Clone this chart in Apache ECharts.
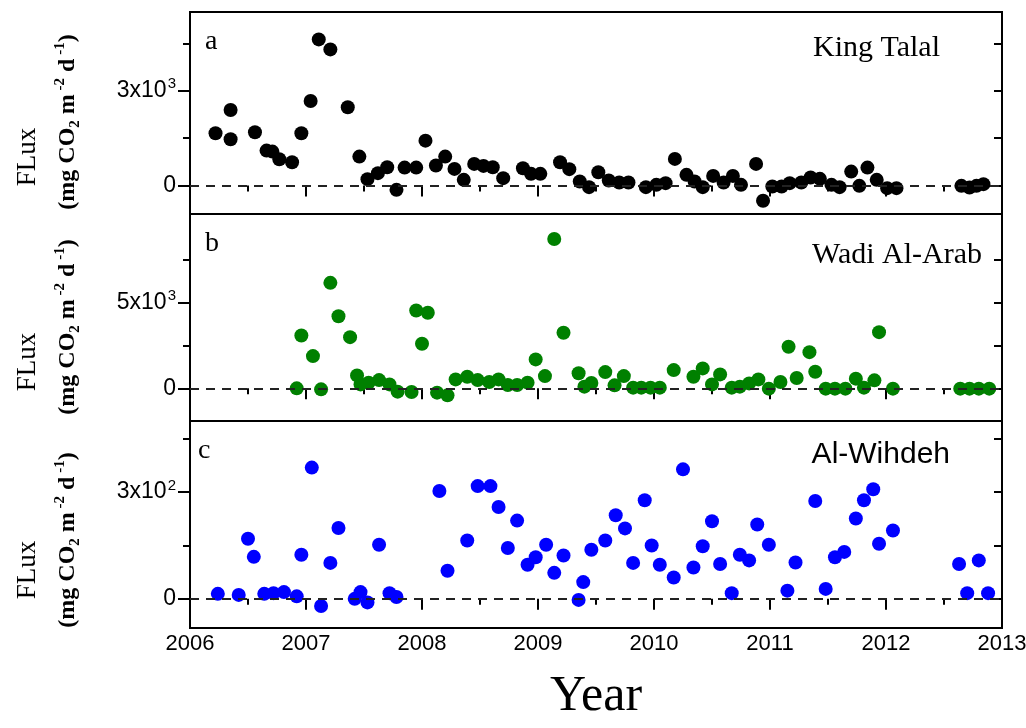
<!DOCTYPE html>
<html>
<head>
<meta charset="utf-8">
<title>FLux</title>
<script src="https://cdn.jsdelivr.net/npm/echarts@6/dist/echarts.min.js"></script>
<style>
    html, body { margin: 0; padding: 0; background: #fff; }
    #chart { width: 1026px; height: 728px; }
</style>
</head>
<body>
<div id="chart"></div>
<script>
// King Talal (a)
const ktYear = [2006.22, 2006.35, 2006.35, 2006.56, 2006.66, 2006.71, 2006.77, 2006.88, 2006.96,
    2007.04, 2007.11, 2007.21, 2007.36, 2007.46, 2007.53, 2007.62, 2007.70, 2007.78, 2007.85, 2007.95,
    2008.03, 2008.12, 2008.20, 2008.28, 2008.36, 2008.45, 2008.53, 2008.61, 2008.70, 2008.87, 2008.94,
    2009.02, 2009.19, 2009.27, 2009.36, 2009.44, 2009.52, 2009.61, 2009.70, 2009.78, 2009.93,
    2010.02, 2010.10, 2010.18, 2010.28, 2010.35, 2010.42, 2010.51, 2010.60, 2010.68, 2010.75, 2010.88, 2010.94,
    2011.02, 2011.10, 2011.17, 2011.27, 2011.35, 2011.43, 2011.53, 2011.60, 2011.70, 2011.77, 2011.84, 2011.92,
    2012.01, 2012.09, 2012.65, 2012.72, 2012.78, 2012.84]
const ktFlux = [1655, 2390, 1465, 1686, 1105, 1074, 834, 739, 1655,
    2675, 4623, 4307, 2476, 916, 202, 392, 581, -136, 568, 568,
    1421, 632, 916, 527, 180, 685, 622, 581, 234, 549, 370,
    370, 739, 518, 126, -51, 423, 158, 95, 95, -51,
    22, 76, 843, 338, 126, -51, 306, 95, 306, 22, 685, -483,
    -32, -32, 76, 95, 253, 212, 22, -51, 442, -9, 568, 180,
    -82, -82, -9, -63, -9, 44]

// Wadi Al-Arab (b)
const waYear = [2006.92, 2006.96,
    2007.06, 2007.13, 2007.21, 2007.28, 2007.38, 2007.44, 2007.47, 2007.54, 2007.63, 2007.72, 2007.79, 2007.91, 2007.95,
    2008.00, 2008.05, 2008.13, 2008.22, 2008.29, 2008.39, 2008.48, 2008.58, 2008.66, 2008.74, 2008.82, 2008.91, 2008.98,
    2009.06, 2009.14, 2009.22, 2009.35, 2009.40, 2009.46, 2009.58, 2009.66, 2009.74, 2009.82, 2009.89, 2009.97,
    2010.05, 2010.17, 2010.34, 2010.42, 2010.50, 2010.57, 2010.67, 2010.74, 2010.82, 2010.90, 2010.99,
    2011.09, 2011.16, 2011.23, 2011.34, 2011.39, 2011.48, 2011.56, 2011.65, 2011.74, 2011.81, 2011.90, 2011.94,
    2012.06, 2012.64, 2012.72, 2012.80, 2012.89]
const waFlux = [0, 3079,
    1877, -58, 6141, 4201, 2981, 755, 232, 331, 482, 232, -192, -215, 4532,
    2597, 4398, -250, -407, 523, 680, 482, 366, 523, 192, 192, 331, 1685,
    715, 8698, 3236, 880, 100, 310, 947, 174, 715, 41, 41, 41,
    41, 1063, 680, 1162, 232, 813, 41, 99, 290, 523, -17,
    366, 2423, 600, 2109, 970, -17, -17, -17, 564, 41, 465, 3271,
    -17, -17, -17, -17, -17]

// Al-Wihdeh (c)
const awYear = [2006.24, 2006.42, 2006.50, 2006.55, 2006.64, 2006.72, 2006.81, 2006.92, 2006.96,
    2007.05, 2007.13, 2007.21, 2007.28, 2007.42, 2007.47, 2007.53, 2007.63, 2007.72, 2007.78,
    2008.15, 2008.22, 2008.39, 2008.48, 2008.59, 2008.66, 2008.74, 2008.82, 2008.91, 2008.98,
    2009.07, 2009.14, 2009.22, 2009.35, 2009.39, 2009.46, 2009.58, 2009.67, 2009.75, 2009.82, 2009.92, 2009.98,
    2010.05, 2010.17, 2010.25, 2010.34, 2010.42, 2010.50, 2010.57, 2010.67, 2010.74, 2010.82, 2010.89, 2010.99,
    2011.15, 2011.22, 2011.39, 2011.48, 2011.56, 2011.64, 2011.74, 2011.81, 2011.89, 2011.94,
    2012.06, 2012.63, 2012.70, 2012.80, 2012.88]
const awFlux = [14, 11, 169, 118, 14, 16, 19, 7, 124,
    369, -20, 101, 199, 0, 19, -10, 152, 16, 5,
    303, 79, 164, 317, 317, 258, 143, 220, 96, 117,
    152, 73, 122, -3, 47, 138, 164, 235, 198, 101, 277, 150,
    96, 60, 364, 88, 148, 218, 98, 16, 124, 108, 209, 152,
    23, 102, 275, 28, 117, 132, 226, 277, 308, 155,
    192, 98, 16, 108, 16]

const yearTicks = [2006, 2007, 2008, 2009, 2010, 2011, 2012, 2013]
const stations = ['King Talal', 'Wadi Al-Arab', 'Al-Wihdeh']
const panelLetters = ['a', 'b', 'c']
// major (labelled) and minor y ticks, label text as mantissa / exponent
const majorTicks = [[0, 3000], [0, 5000], [0, 300]]
const minorTicks = [[1500, 4500], [2500, 7500], [150, 450]]
const tickLabels = [['3', '3'], ['5', '3'], ['3', '2']]
const yRanges = [[-900, 5490], [-1900, 10150], [-82, 500]]

const SERIF = '"Liberation Serif", "DejaVu Serif", serif'
const SANS = '"Liberation Sans", Arial, sans-serif'
const colors = ['#000000', '#008000', '#0000ff']
const grids = [
    {left: 190, right: 24, top: 12, height: 202},
    {left: 190, right: 24, top: 214, height: 207},
    {left: 190, right: 24, top: 421, height: 207}
]

const chart = echarts.init(document.getElementById('chart'))

function zip(xs, ys) {
    return xs.map((x, i) => [x, ys[i]])
}

let xAxes = []
let yAxes = []
grids.forEach((g, i) => {
    // mirrored top axis, ticks pointing into the panel
    xAxes.push({
        type: 'value', gridIndex: i, position: 'top',
        min: yearTicks[0], max: yearTicks[yearTicks.length - 1], interval: 1,
        axisLine: {show: false}, splitLine: {show: false}, axisLabel: {show: false},
        axisTick: {inside: true, length: 11, lineStyle: {color: '#000', width: 2}},
        minorTick: {show: true, splitNumber: 2, length: 6, lineStyle: {color: '#000', width: 2}}
    })
    let [lo, hi] = yRanges[i]
    let lab = tickLabels[i]
    yAxes.push({
        type: 'value', gridIndex: i, position: 'left', min: lo, max: hi,
        axisLine: {show: false}, splitLine: {show: false},
        axisTick: {customValues: majorTicks[i], length: 12, lineStyle: {color: '#000', width: 2}},
        axisLabel: {
            customValues: majorTicks[i], margin: 14,
            formatter: v => v === 0 ? '{n|0}' : '{n|' + lab[0] + 'x10}{s|' + lab[1] + '}',
            rich: {
                n: {fontFamily: SANS, fontSize: 23, color: '#000'},
                s: {fontFamily: SANS, fontSize: 15, color: '#000', padding: [0, 0, 13, 1]}
            }
        }
    })
    yAxes.push({
        type: 'value', gridIndex: i, position: 'left', min: lo, max: hi,
        axisLine: {show: false}, splitLine: {show: false}, axisLabel: {show: false},
        axisTick: {customValues: minorTicks[i], length: 7, lineStyle: {color: '#000', width: 2}}
    })
    yAxes.push({
        type: 'value', gridIndex: i, position: 'right', min: lo, max: hi,
        axisLine: {show: false}, splitLine: {show: false}, axisLabel: {show: false},
        axisTick: {inside: true, customValues: majorTicks[i].concat(minorTicks[i]), length: 8,
            lineStyle: {color: '#000', width: 2}}
    })
})
// bottom axis with year labels
xAxes.push({
    type: 'value', gridIndex: 2, position: 'bottom',
    min: yearTicks[0], max: yearTicks[yearTicks.length - 1], interval: 1,
    axisLine: {show: false}, splitLine: {show: false},
    axisTick: {length: 9, lineStyle: {color: '#000', width: 2}},
    minorTick: {show: true, splitNumber: 2, length: 6, lineStyle: {color: '#000', width: 2}},
    axisLabel: {fontFamily: SANS, fontSize: 22, color: '#000', margin: 5, formatter: v => String(v)}
})

const allData = [zip(ktYear, ktFlux), zip(waYear, waFlux), zip(awYear, awFlux)]
let series = []
allData.forEach((d, i) => {
    // dashed zero line under the points
    series.push({
        type: 'scatter', xAxisIndex: i, yAxisIndex: i * 3, data: [], z: 1, silent: true,
        markLine: {
            silent: true, symbol: 'none', label: {show: false},
            lineStyle: {type: [9, 7], color: '#222', width: 2},
            data: [{yAxis: 0}]
        }
    })
    series.push({
        name: stations[i], type: 'scatter', z: 3,
        xAxisIndex: i === 2 ? 3 : i, yAxisIndex: i * 3,
        symbol: 'circle', symbolSize: 14,
        itemStyle: {color: colors[i], opacity: 1},
        data: d
    })
})

const unitsRich = {
    f: {fontFamily: SERIF, fontSize: 27, color: '#000', lineHeight: 40},
    u: {fontFamily: SERIF, fontSize: 24, fontWeight: 'bold', color: '#000', lineHeight: 40},
    sb: {fontFamily: SERIF, fontSize: 15, fontWeight: 'bold', color: '#000', padding: [14, 0, 0, 0]},
    sp: {fontFamily: SERIF, fontSize: 15, fontWeight: 'bold', color: '#000', padding: [0, 0, 16, 0]}
}
const unitsText = '{u|(mg CO}{sb|2}{u| m}{sp| -2}{u| d}{sp| -1}{u|)}'
const titleCenters = [[157, 122], [362, 327], [570, 540]]

let graphics = []
grids.forEach((g, i) => {
    graphics.push({
        type: 'text', x: 28, y: titleCenters[i][0], rotation: Math.PI / 2,
        style: {text: '{f|FLux}', rich: unitsRich, align: 'center', verticalAlign: 'middle'}
    })
    graphics.push({
        type: 'text', x: 68, y: titleCenters[i][1], rotation: Math.PI / 2,
        style: {text: unitsText, rich: unitsRich, align: 'center', verticalAlign: 'middle'}
    })
    graphics.push({
        type: 'text', left: i === 2 ? 198 : 205, top: g.top + 16,
        style: {text: panelLetters[i], font: '28px ' + SERIF, fill: '#000'}
    })
})
graphics.push({type: 'text', x: 940, y: 48,
    style: {text: stations[0], font: '30px ' + SERIF, fill: '#000', align: 'right', verticalAlign: 'middle'}})
graphics.push({type: 'text', x: 982, y: 255,
    style: {text: stations[1], font: '30px ' + SERIF, fill: '#000', align: 'right', verticalAlign: 'middle'}})
graphics.push({type: 'text', x: 950, y: 455,
    style: {text: stations[2], font: '30px ' + SANS, fill: '#000', align: 'right', verticalAlign: 'middle'}})
graphics.push({type: 'text', x: 596, y: 697,
    style: {text: 'Year', font: '50px ' + SERIF, fill: '#000', align: 'center', verticalAlign: 'middle'}})

chart.setOption({
    animation: false,
    backgroundColor: '#fff',
    grid: grids.map(g => Object.assign({show: true, borderColor: '#000', borderWidth: 2,
        backgroundColor: 'transparent', containLabel: false, outerBoundsMode: 'none'}, g)),
    xAxis: xAxes,
    yAxis: yAxes,
    series: series,
    graphic: graphics
})
</script>
</body>
</html>
